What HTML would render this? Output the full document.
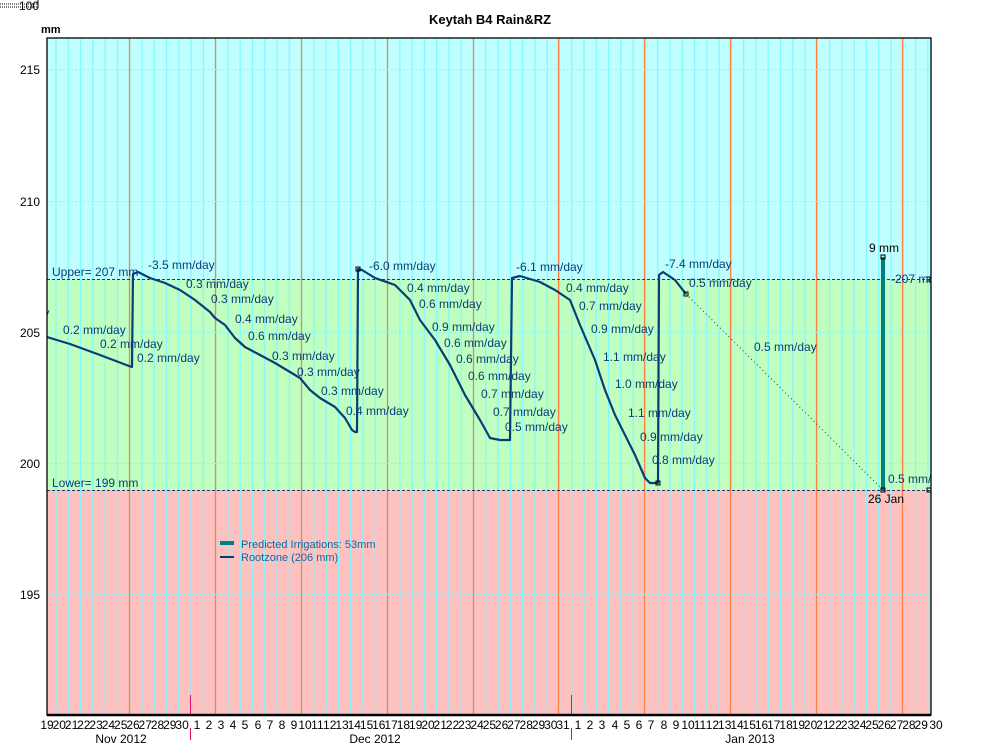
<!DOCTYPE html>
<html><head><meta charset="utf-8"><style>
body{margin:0;background:#fff;}
svg{display:block;font-family:"Liberation Sans",sans-serif;}
.r{font-size:12px;fill:#0a3c78;}
.d{font-size:12px;fill:#000;}
</style></head><body>
<svg width="981" height="754" viewBox="0 0 981 754" xmlns="http://www.w3.org/2000/svg">
<defs>
<pattern id="vl" x="47" y="0" width="12.28" height="754" patternUnits="userSpaceOnUse">
<rect x="8.4" y="0" width="1.2" height="754" fill="#80f8ff"/>
</pattern>
<clipPath id="pc"><rect x="47" y="38" width="884" height="677"/></clipPath>
</defs>
<!-- top-left junk -->
<line x1="0" y1="4" x2="38" y2="4" stroke="#000" stroke-dasharray="1,1"/>
<line x1="0" y1="7" x2="38" y2="7" stroke="#000" stroke-dasharray="1,1"/>
<text x="19" y="10" font-size="12" fill="#000">100</text>
<line x1="38" y1="0" x2="38" y2="8" stroke="#000"/>
<text x="490" y="24" text-anchor="middle" font-size="13" font-weight="bold" fill="#000">Keytah B4 Rain&amp;RZ</text>
<text x="41" y="33" font-size="11" font-weight="bold" fill="#000">mm</text>
<!-- bands -->
<rect x="47" y="38" width="884" height="241" fill="#c0ffff"/>
<rect x="47" y="279" width="884" height="211" fill="#c0ffc0"/>
<rect x="47" y="490" width="884" height="225" fill="#ffc0c0"/>
<rect x="47" y="38" width="884" height="677" fill="url(#vl)"/>
<g stroke="#ff8040" stroke-width="1.3">
<line x1="129.5" y1="38" x2="129.5" y2="715"/><line x1="215.5" y1="38" x2="215.5" y2="715"/>
<line x1="301.5" y1="38" x2="301.5" y2="715"/><line x1="387.5" y1="38" x2="387.5" y2="715"/>
<line x1="473.5" y1="38" x2="473.5" y2="715"/><line x1="558.5" y1="38" x2="558.5" y2="715"/>
<line x1="644.5" y1="38" x2="644.5" y2="715"/><line x1="730.5" y1="38" x2="730.5" y2="715"/>
<line x1="816.5" y1="38" x2="816.5" y2="715"/><line x1="902.5" y1="38" x2="902.5" y2="715"/>
</g>
<g stroke="#80f8ff" stroke-dasharray="2,2">
<line x1="47" y1="69.5" x2="931" y2="69.5"/><line x1="47" y1="201.5" x2="931" y2="201.5"/>
<line x1="47" y1="332.5" x2="931" y2="332.5"/><line x1="47" y1="463.5" x2="931" y2="463.5"/>
<line x1="47" y1="594.5" x2="931" y2="594.5"/>
</g>
<g stroke="#1a3a6a" stroke-dasharray="3,2">
<line x1="47" y1="279.5" x2="931" y2="279.5"/><line x1="47" y1="490.5" x2="931" y2="490.5"/>
</g>
<line x1="190.5" y1="695" x2="190.5" y2="715" stroke="#e0106a"/>
<line x1="571.5" y1="695" x2="571.5" y2="715" stroke="#e0106a"/>
<line x1="190.5" y1="728" x2="190.5" y2="740" stroke="#e0106a"/>
<line x1="571.5" y1="728" x2="571.5" y2="740" stroke="#e0106a"/>
<g clip-path="url(#pc)">
<polyline fill="none" stroke="#0a3c78" stroke-width="2.2" stroke-linejoin="round" points="47,337 70,344 100,355 129,366 132,367 133,274 138,272 150,278 165,283 180,290 195,300 210,312 215,318 225,325 235,338 245,347 260,355 275,363 290,372 300,378 310,390 320,398 335,407 345,418 352,430 355,432 357,432 358,269 362,270 375,278 395,285 410,300 420,320 435,340 450,365 465,395 480,420 490,438 500,440 510,440 512,278 520,276 540,282 555,290 570,300 580,325 595,360 605,390 615,415 625,435 635,455 645,478 650,483 658,483 659,275 663,272 675,280 686,294"/>
<line x1="686" y1="294" x2="883" y2="490" stroke="#0a3c78" stroke-dasharray="1,3"/>
<rect x="881" y="257" width="4" height="233" fill="#008080"/>
<g fill="none" stroke="#000"><rect x="656" y="481" width="4" height="4"/><rect x="684" y="292" width="4" height="4"/><rect x="881" y="255" width="4" height="4"/><rect x="881" y="488" width="4" height="4"/><rect x="927" y="277" width="4" height="4"/><rect x="927" y="488" width="4" height="4"/><rect x="356" y="267" width="4" height="4"/></g>
<g class="r" dominant-baseline="middle">
<text x="30" y="314">day</text>
<text x="63" y="331">0.2 mm/day</text><text x="100" y="345">0.2 mm/day</text><text x="137" y="359">0.2 mm/day</text>
<text x="148" y="266">-3.5 mm/day</text><text x="186" y="285">0.3 mm/day</text><text x="211" y="300">0.3 mm/day</text>
<text x="235" y="320">0.4 mm/day</text><text x="248" y="337">0.6 mm/day</text><text x="272" y="357">0.3 mm/day</text>
<text x="297" y="373">0.3 mm/day</text><text x="321" y="392">0.3 mm/day</text><text x="346" y="412">0.4 mm/day</text>
<text x="369" y="267">-6.0 mm/day</text><text x="407" y="289">0.4 mm/day</text><text x="419" y="305">0.6 mm/day</text>
<text x="432" y="328">0.9 mm/day</text><text x="444" y="344">0.6 mm/day</text><text x="456" y="360">0.6 mm/day</text>
<text x="468" y="377">0.6 mm/day</text><text x="481" y="395">0.7 mm/day</text><text x="493" y="413">0.7 mm/day</text>
<text x="505" y="428">0.5 mm/day</text>
<text x="516" y="268">-6.1 mm/day</text><text x="566" y="289">0.4 mm/day</text><text x="579" y="307">0.7 mm/day</text>
<text x="591" y="330">0.9 mm/day</text><text x="603" y="358">1.1 mm/day</text><text x="615" y="385">1.0 mm/day</text>
<text x="628" y="414">1.1 mm/day</text><text x="640" y="438">0.9 mm/day</text><text x="652" y="461">0.8 mm/day</text>
<text x="665" y="265">-7.4 mm/day</text><text x="689" y="284">0.5 mm/day</text><text x="754" y="348">0.5 mm/day</text>
<text x="888" y="480">0.5 mm/day</text><text x="891" y="280">-207 mm</text>
<text x="52" y="273">Upper= 207 mm</text><text x="52" y="484">Lower= 199 mm</text>
</g>
<text x="869" y="252" class="d">9  mm</text>
<text x="868" y="503" class="d">26 Jan</text>
<rect x="220" y="541" width="14" height="4" fill="#008080"/>
<rect x="220" y="556" width="14" height="2" fill="#0a3c78"/>
<text x="241" y="548" font-size="11" fill="#0a6aa0">Predicted Irrigations: 53mm</text>
<text x="241" y="561" font-size="11" fill="#0a6aa0">Rootzone (206 mm)</text>
</g>
<rect x="47" y="38" width="884" height="677" fill="none" stroke="#000" stroke-width="1.3"/>
<line x1="47" y1="715" x2="931" y2="715" stroke="#000" stroke-width="2.5"/>
<g class="d" text-anchor="end" font-size="12">
<text x="40" y="74">215</text><text x="40" y="206">210</text><text x="40" y="337">205</text>
<text x="40" y="468">200</text><text x="40" y="599">195</text>
</g>
<g class="d" text-anchor="middle" font-size="12">
<text x="47" y="729">19</text><text x="59.3" y="729">20</text><text x="71.6" y="729">21</text><text x="83.8" y="729">22</text><text x="96.1" y="729">23</text><text x="108.4" y="729">24</text><text x="120.7" y="729">25</text><text x="133" y="729">26</text><text x="145.2" y="729">27</text><text x="157.5" y="729">28</text><text x="169.8" y="729">29</text><text x="182.1" y="729">30</text>
<text x="197" y="729">1</text><text x="209" y="729">2</text><text x="221" y="729">3</text><text x="233" y="729">4</text><text x="245" y="729">5</text><text x="258" y="729">6</text><text x="270" y="729">7</text><text x="282" y="729">8</text><text x="294" y="729">9</text><text x="305" y="729">10</text><text x="317.4" y="729">11</text><text x="329.7" y="729">12</text><text x="342" y="729">13</text><text x="354.3" y="729">14</text><text x="366.6" y="729">15</text><text x="378.8" y="729">16</text><text x="391.1" y="729">17</text><text x="403.4" y="729">18</text><text x="415.7" y="729">19</text><text x="428" y="729">20</text><text x="440.2" y="729">21</text><text x="452.5" y="729">22</text><text x="464.8" y="729">23</text><text x="477.1" y="729">24</text><text x="489.4" y="729">25</text><text x="501.6" y="729">26</text><text x="513.9" y="729">27</text><text x="526.2" y="729">28</text><text x="538.5" y="729">29</text><text x="550.8" y="729">30</text><text x="563" y="729">31</text>
<text x="578" y="729">1</text><text x="590" y="729">2</text><text x="602" y="729">3</text><text x="615" y="729">4</text><text x="627" y="729">5</text><text x="639" y="729">6</text><text x="651" y="729">7</text><text x="664" y="729">8</text><text x="676" y="729">9</text><text x="688" y="729">10</text><text x="700" y="729">11</text><text x="712.4" y="729">12</text><text x="724.7" y="729">13</text><text x="737" y="729">14</text><text x="749.2" y="729">15</text><text x="761.5" y="729">16</text><text x="773.8" y="729">17</text><text x="786.1" y="729">18</text><text x="798.4" y="729">19</text><text x="810.6" y="729">20</text><text x="822.9" y="729">21</text><text x="835.2" y="729">22</text><text x="847.5" y="729">23</text><text x="859.8" y="729">24</text><text x="872" y="729">25</text><text x="884.3" y="729">26</text><text x="896.6" y="729">27</text><text x="908.9" y="729">28</text><text x="921.2" y="729">29</text><text x="936" y="729">30</text>
<text x="121" y="743">Nov 2012</text><text x="375" y="743">Dec 2012</text><text x="750" y="743">Jan 2013</text>
</g>
</svg>
</body></html>
